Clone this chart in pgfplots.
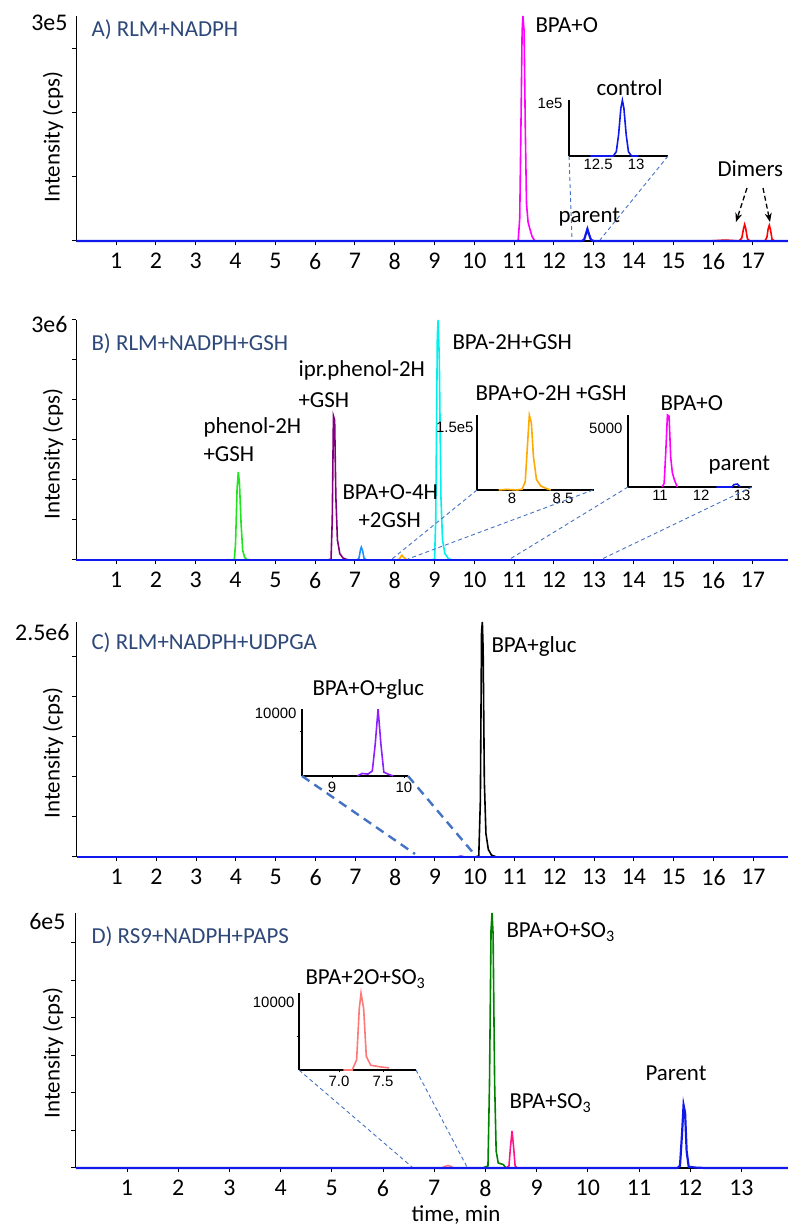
\documentclass[border=0pt]{standalone}
\usepackage{pgfplots}
\pgfplotsset{compat=1.18}
\usepackage{fontspec}
\setmainfont{Carlito}
\newfontfamily\arialf{Liberation Sans}
\usetikzlibrary{arrows.meta}
\definecolor{titlecol}{RGB}{46,72,122}
\definecolor{conn}{RGB}{68,114,196}
\definecolor{bluemain}{RGB}{15,25,235}
\definecolor{magentaC}{RGB}{255,0,255}
\definecolor{greenB}{RGB}{30,230,30}
\definecolor{purpleB}{RGB}{128,0,128}
\definecolor{dodger}{RGB}{30,144,255}
\definecolor{orangeB}{RGB}{255,170,0}
\definecolor{cyanB}{RGB}{0,240,240}
\definecolor{violetC}{RGB}{140,30,255}
\definecolor{greenD}{RGB}{0,130,0}
\definecolor{pinkD}{RGB}{255,20,140}
\definecolor{salmonD}{RGB}{255,120,120}
\newcommand{\mf}{\fontsize{23}{26}\selectfont}
\newcommand{\tf}{\fontsize{24}{27}\selectfont}
\newcommand{\insf}{\arialf\fontsize{15}{17}\selectfont}
\pgfplotsset{
 mainax/.style={scale only axis, axis x line*=bottom, axis y line*=left,
  axis line style={line width=1.3bp,-}, tick style={line width=1bp,black},
  tick align=outside, major tick length=4.5bp, xmin=0, ymin=0, clip=false,
  yticklabels={}, scaled y ticks=false, scaled x ticks=false, ticklabel style={font=\tf},
  /pgf/number format/assume math mode=true, xticklabel style={yshift=-4bp},
  every axis plot/.append style={line width=1.6bp}},
 inax/.style={scale only axis, axis x line*=bottom, axis y line*=left,
  axis line style={line width=1.5bp,-}, tick style={line width=0.8bp,black},
  tick align=outside, major tick length=0bp, ymin=0, clip=false, ytick=\empty,
  scaled y ticks=false, scaled x ticks=false,
  ticklabel style={font=\insf}, /pgf/number format/assume math mode=true,
  every axis plot/.append style={line width=1.6bp}},
}
\begin{document}
\begin{tikzpicture}[x=1bp,y=1bp]
\useasboundingbox (0,0) rectangle (788,1226);

%%%%%%%%%%%%%%%% Panel A
\begin{axis}[mainax, at={(76.3bp,985bp)}, anchor=south west, width=711.7bp, height=225bp,
  xmax=17.88, ymax=3e5, xtick={1,...,17}, ytick={0,85333,170667,256000}]
\addplot[red] coordinates {(15.9,0)(16.1,600)(16.3,1200)(16.5,600)(16.65,0)(16.72,4000)(16.76,16000)(16.79,22000)(16.82,16000)(16.86,3000)(16.92,0)(17.3,0)(17.35,5000)(17.38,16000)(17.41,21000)(17.44,15000)(17.48,2000)(17.55,0)};
\addplot[magentaC] coordinates {(10.9,0)(11.1,0)(11.14,30000)(11.17,150000)(11.2,280000)(11.22,300000)(11.25,280000)(11.28,150000)(11.31,50000)(11.35,25000)(11.4,15000)(11.45,6000)(11.52,0)(11.7,0)};
\addplot[bluemain, line width=2.2bp] coordinates {(0,0)(12.7,0)(12.76,2000)(12.8,9000)(12.84,16000)(12.88,9000)(12.93,1500)(13,0)(17.88,0)};
\end{axis}
\begin{axis}[inax, at={(569bp,1070bp)}, anchor=south west, width=99bp, height=56bp,
  xmin=12.118, xmax=13.42, ymax=1.057e5, xtick={12.5,13}, xticklabels={12.5,13}]
\addplot[bluemain] coordinates {(12.4,0)(12.7,0)(12.74,8000)(12.77,40000)(12.8,90000)(12.82,105000)(12.84,90000)(12.87,40000)(12.9,8000)(12.94,0)(13.03,0)};
\end{axis}
\node[anchor=west, text=titlecol, font=\mf] at (88,1196) {A) RLM+NADPH};
\node[anchor=east, font=\tf] at (71,1203) {3e5};
\node[rotate=90, font=\mf] at (53,1089) {Intensity (cps)};
\node[anchor=west, font=\mf] at (532,1201) {BPA+O};
\node[anchor=west, font=\mf] at (593,1138) {control};
\node[anchor=east, font=\insf] at (566,1123) {1e5};
\node[anchor=west, font=\mf] at (555,1009) {parent};
\node[anchor=west, font=\mf] at (714,1057) {Dimers};
\draw[black, line width=1.3bp, dash pattern=on 5bp off 3bp, -{Stealth[length=9bp,width=7bp]}] (747,1038) -- (736,1004);
\draw[black, line width=1.3bp, dash pattern=on 5bp off 3bp, -{Stealth[length=9bp,width=7bp]}] (763,1038) -- (770,1004);
\draw[conn, line width=0.9bp, dash pattern=on 4bp off 3bp] (569,1070) -- (572,986) (668,1070) -- (600,986);

%%%%%%%%%%%%%%%% Panel B
\begin{axis}[mainax, at={(76.3bp,666bp)}, anchor=south west, width=711.7bp, height=240bp,
  xmax=17.88, ymax=3e6, xtick={1,...,17}, ytick={0,5e5,1e6,1.5e6,2e6,2.5e6,3e6}]
\addplot[greenB] coordinates {(3.85,0)(3.97,5000)(4.0,200000)(4.04,900000)(4.07,1100000)(4.1,950000)(4.14,450000)(4.18,120000)(4.23,30000)(4.3,5000)(4.4,0)};
\addplot[purpleB] coordinates {(6.3,0)(6.4,10000)(6.43,500000)(6.46,1800000)(6.49,1750000)(6.52,800000)(6.56,250000)(6.62,80000)(6.7,25000)(6.8,5000)(6.9,0)};
\addplot[dodger] coordinates {(7.05,0)(7.1,20000)(7.14,130000)(7.16,160000)(7.19,120000)(7.23,20000)(7.3,0)};
\addplot[orangeB] coordinates {(7.9,0)(8.1,3000)(8.15,40000)(8.18,60000)(8.21,40000)(8.28,8000)(8.4,0)};
\addplot[cyanB] coordinates {(8.9,0)(9.0,10000)(9.03,500000)(9.07,2800000)(9.09,3000000)(9.12,2500000)(9.16,800000)(9.2,250000)(9.26,80000)(9.35,15000)(9.45,0)};
\addplot[bluemain, line width=2.2bp] coordinates {(0,0)(17.88,0)};
\end{axis}
\begin{axis}[inax, at={(477bp,736bp)}, anchor=south west, width=117bp, height=75bp,
  xmin=7.657, xmax=8.804, ymax=1.786e5, xtick={8,8.5}, xticklabels={8,8.5}]
\addplot[orangeB] coordinates {(7.87,0)(7.95,1500)(8.05,0)(8.1,2000)(8.13,20000)(8.15,100000)(8.17,178000)(8.19,160000)(8.21,80000)(8.24,25000)(8.28,10000)(8.33,4000)(8.38,0)};
\end{axis}
\begin{axis}[inax, at={(628bp,739bp)}, anchor=south west, width=124bp, height=72bp,
  xmin=10.22, xmax=13.24, ymax=6100, xtick={11,12,13}, xticklabels={11,12,13}]
\addplot[magentaC] coordinates {(11.05,0)(11.1,300)(11.14,3000)(11.18,6100)(11.22,6000)(11.26,2500)(11.3,1200)(11.35,600)(11.42,0)};
\addplot[bluemain] coordinates {(12.37,0)(12.75,0)(12.8,200)(12.88,250)(12.95,0)};
\end{axis}
\node[anchor=west, text=titlecol, font=\mf] at (88,882) {B) RLM+NADPH+GSH};
\node[anchor=east, font=\tf] at (71,901) {3e6};
\node[rotate=90, font=\mf] at (53,772) {Intensity (cps)};
\node[anchor=west, font=\mf] at (200,799) {phenol-2H};
\node[anchor=west, font=\mf] at (200,772) {+GSH};
\node[anchor=west, font=\mf] at (295,856) {ipr.phenol-2H};
\node[anchor=west, font=\mf] at (295,826) {+GSH};
\node[anchor=west, font=\mf] at (339,734) {BPA+O-4H};
\node[anchor=west, font=\mf] at (355,706) {+2GSH};
\node[anchor=west, font=\mf] at (449,884) {BPA-2H+GSH};
\node[anchor=west, font=\mf] at (472,833) {BPA+O-2H +GSH};
\node[anchor=east, font=\insf] at (477,799) {1.5e5};
\node[anchor=west, font=\mf] at (657,823) {BPA+O};
\node[anchor=east, font=\insf] at (626,798) {5000};
\node[anchor=west, font=\mf] at (705,761) {parent};
\draw[conn, line width=0.9bp, dash pattern=on 4bp off 3bp] (477,736) -- (392,667) (593,736) -- (408,667) (628,739) -- (510,667) (752,739) -- (602,667);

%%%%%%%%%%%%%%%% Panel C
\begin{axis}[mainax, at={(76.8bp,369bp)}, anchor=south west, width=711.2bp, height=235bp,
  xmax=17.87, ymax=2.5e6, xtick={1,...,17}, ytick={0,425532,851064,1276596,1702128,2127660}]
\addplot[violetC] coordinates {(9.55,0)(9.65,10000)(9.75,0)};
\addplot[black] coordinates {(10.0,0)(10.1,10000)(10.14,600000)(10.17,2400000)(10.19,2500000)(10.21,2200000)(10.24,800000)(10.28,250000)(10.34,80000)(10.42,20000)(10.55,0)};
\addplot[bluemain, line width=2.2bp] coordinates {(0,0)(17.87,0)};
\end{axis}
\begin{axis}[inax, at={(302bp,450bp)}, anchor=south west, width=106bp, height=67bp,
  xmin=8.583, xmax=10.056, ymax=10630, xtick={9,10}, xticklabels={9,10},
  ytick={7000}, yticklabels={}, major tick length=2.5bp]
\addplot[violetC] coordinates {(9.35,0)(9.42,400)(9.5,300)(9.56,800)(9.6,5000)(9.64,10600)(9.68,5000)(9.72,600)(9.78,300)(9.85,0)};
\end{axis}
\node[anchor=west, text=titlecol, font=\mf] at (88,583) {C) RLM+NADPH+UDPGA};
\node[anchor=east, font=\tf] at (73,593) {2.5e6};
\node[rotate=90, font=\mf] at (53,473) {Intensity (cps)};
\node[anchor=west, font=\mf] at (488,579) {BPA+gluc};
\node[anchor=west, font=\mf] at (309,536) {BPA+O+gluc};
\node[anchor=east, font=\insf] at (300,513) {10000};
\draw[conn, line width=2.4bp, dash pattern=on 9bp off 6bp] (302,450) -- (415,372) (408,450) -- (475,371);

%%%%%%%%%%%%%%%% Panel D
\begin{axis}[mainax, at={(75.8bp,58bp)}, anchor=south west, width=712.2bp, height=255bp,
  xmax=13.91, ymax=6e5, xtick={1,...,13}, ytick={0,88235,176470,264706,352941,441176,529412}]
\addplot[salmonD] coordinates {(7.15,0)(7.22,4000)(7.27,6000)(7.32,4000)(7.38,0)};
\addplot[greenD] coordinates {(7.95,0)(8.05,5000)(8.08,200000)(8.11,560000)(8.13,600000)(8.15,550000)(8.18,200000)(8.21,40000)(8.25,12000)(8.35,8000)(8.4,0)};
\addplot[pinkD] coordinates {(8.4,0)(8.46,5000)(8.49,50000)(8.52,87000)(8.55,50000)(8.58,5000)(8.62,0)};
\addplot[bluemain, line width=2.2bp] coordinates {(0,0)(11.75,0)(11.8,5000)(11.84,80000)(11.87,148000)(11.9,130000)(11.93,40000)(11.97,3000)(12.1,1000)(12.3,0)(13.91,0)};
\end{axis}
\begin{axis}[inax, at={(299bp,156bp)}, anchor=south west, width=117bp, height=77bp,
  xmin=6.545, xmax=7.875, ymax=11320, xtick={7,7.5}, xticklabels={7.0,7.5},
  ytick={5000}, yticklabels={}, major tick length=2.5bp]
\addplot[salmonD] coordinates {(7.05,0)(7.15,0)(7.2,1500)(7.23,9000)(7.25,11300)(7.28,9000)(7.31,2000)(7.36,700)(7.45,500)(7.57,300)};
\end{axis}
\node[anchor=west, text=titlecol, font=\mf] at (88,289) {D) RS9+NADPH+PAPS};
\node[anchor=east, font=\tf] at (69,304) {6e5};
\node[rotate=90, font=\mf] at (53,173) {Intensity (cps)};
\node[anchor=west, font=\mf] at (503,294) {BPA+O+SO\textsubscript{3}};
\node[anchor=west, font=\mf] at (506,123) {BPA+SO\textsubscript{3}};
\node[anchor=west, font=\mf] at (642,153) {Parent};
\node[anchor=west, font=\mf] at (302,247) {BPA+2O+SO\textsubscript{3}};
\node[anchor=east, font=\insf] at (298,224) {10000};
\node[font=\mf] at (456,11) {time, min};
\draw[conn, line width=0.9bp, dash pattern=on 4bp off 3bp] (299,156) -- (412,59) (416,156) -- (467,59);
\end{tikzpicture}
\end{document}
